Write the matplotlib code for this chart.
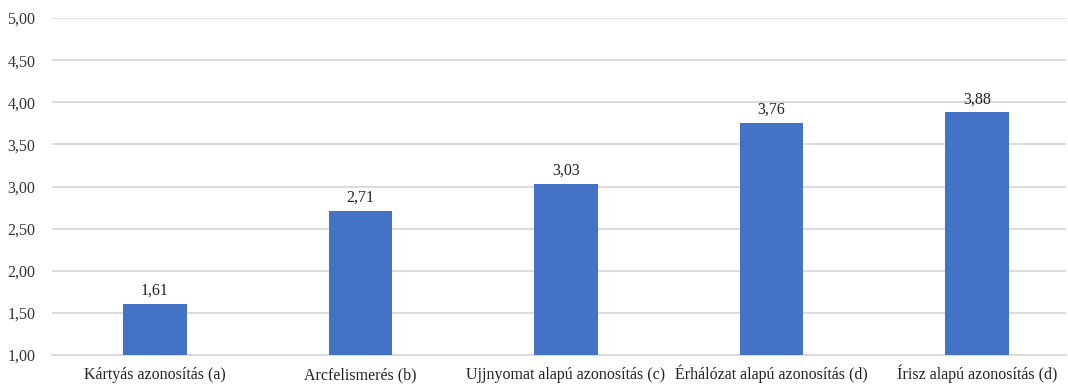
import matplotlib.pyplot as plt

# scores per identification method
methods = ["Kártyás azonosítás (a)", "Arcfelismerés (b)", "Ujjnyomat alapú azonosítás (c)",
           "Érhálózat alapú azonosítás (d)", "Írisz alapú azonosítás (d)"]
scores = [1.61, 2.71, 3.03, 3.76, 3.88]
yticks = [1.0, 1.5, 2.0, 2.5, 3.0, 3.5, 4.0, 4.5, 5.0]

plt.rcParams['font.family'] = ['Liberation Serif', 'DejaVu Serif']

fig = plt.figure(figsize=(10.68, 3.85), dpi=100)
ax = fig.add_axes([0.0487, 0.078, 0.9493, 0.875])

x = range(len(methods))
bars = ax.bar(x, [s - 1 for s in scores], bottom=1, width=0.31, color='#4472C4', zorder=3)

for xi, s in zip(x, scores):
    ax.text(xi, s + 0.06, f"{s:.2f}".replace('.', ','), ha='center', va='bottom',
            fontsize=11.5, color='#222222')

ax.set_xlim(-0.501, 4.433)
ax.set_ylim(1, 5)
ax.set_yticks(yticks)
ax.set_yticklabels([f"{t:.2f}".replace('.', ',') for t in yticks], fontsize=11.5, color='#333333')
ax.set_xticks(list(x))
ax.set_xticklabels(methods, fontsize=11.5, color='#222222')
# align category labels on a shared baseline so accented capitals don't shift them
for lbl in ax.get_xticklabels():
    lbl.set_verticalalignment('baseline')
ax.yaxis.grid(True, color='#d9d9d9', linewidth=1.3, zorder=0)
ax.tick_params(axis='both', length=0)
ax.tick_params(axis='y', pad=12)
ax.tick_params(axis='x', pad=17.5)
for side in ['top', 'right', 'left']:
    ax.spines[side].set_visible(False)
ax.spines['bottom'].set_color('#d9d9d9')
ax.spines['bottom'].set_linewidth(1.3)

fig.savefig('out.png', dpi=100)
